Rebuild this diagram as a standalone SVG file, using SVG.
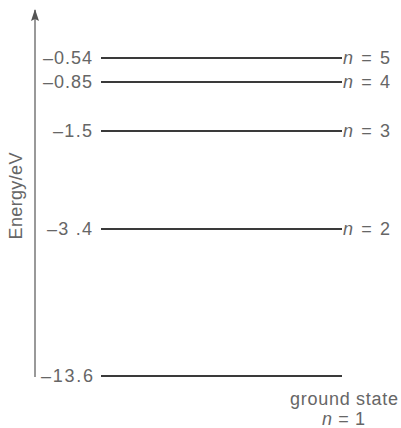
<svg xmlns="http://www.w3.org/2000/svg" width="401" height="428" viewBox="0 0 401 428">
<defs>
<style>
.lv{stroke:#3a3a3a;stroke-width:2;fill:none}
.ax{stroke:#777;stroke-width:1.5;fill:none}
text{font-family:"Liberation Sans",Arial,sans-serif;fill:#666;font-size:18px}
.l{text-anchor:end}
.n{font-style:italic}
</style>
<marker id="arr" viewBox="0 0 12 8" refX="11" refY="4" markerWidth="12" markerHeight="8" markerUnits="userSpaceOnUse" orient="auto">
<path d="M12 4 L0 0 L2 4 L0 8 Z" fill="#555"/>
</marker>
</defs>
<rect width="401" height="428" fill="#fff"/>
<g id="connectors">
<line class="ax" x1="35" y1="377" x2="35" y2="10" marker-end="url(#arr)"/>
</g>
<g id="axis-label">
<text transform="translate(22,196) rotate(-90)" text-anchor="middle" font-size="16" textLength="87" lengthAdjust="spacing">Energy/eV</text>
</g>
<g id="n5">
<line class="lv" x1="101" y1="58" x2="342" y2="58"/>
<text class="l" x="92" y="64" textLength="49" lengthAdjust="spacing">–0.54</text>
<text x="343" y="64" textLength="47" lengthAdjust="spacing"><tspan class="n">n</tspan> = 5</text>
</g>
<g id="n4">
<line class="lv" x1="101" y1="82" x2="342" y2="82"/>
<text class="l" x="92" y="88" textLength="49" lengthAdjust="spacing">–0.85</text>
<text x="343" y="88" textLength="47" lengthAdjust="spacing"><tspan class="n">n</tspan> = 4</text>
</g>
<g id="n3">
<line class="lv" x1="101" y1="131" x2="342" y2="131"/>
<text class="l" x="92" y="137" textLength="39" lengthAdjust="spacing">–1.5</text>
<text x="343" y="137" textLength="47" lengthAdjust="spacing"><tspan class="n">n</tspan> = 3</text>
</g>
<g id="n2">
<line class="lv" x1="101" y1="229" x2="342" y2="229"/>
<text class="l" x="92" y="235" textLength="45" lengthAdjust="spacing">–3 .4</text>
<text x="343" y="235" textLength="47" lengthAdjust="spacing"><tspan class="n">n</tspan> = 2</text>
</g>
<g id="n1">
<line class="lv" x1="101" y1="376" x2="342" y2="376"/>
<text class="l" x="93" y="382" textLength="52" lengthAdjust="spacing">–13.6</text>
<text x="290" y="405" textLength="108" lengthAdjust="spacing">ground state</text>
<text x="322" y="425" textLength="43" lengthAdjust="spacing"><tspan class="n">n</tspan> = 1</text>
</g>
</svg>
